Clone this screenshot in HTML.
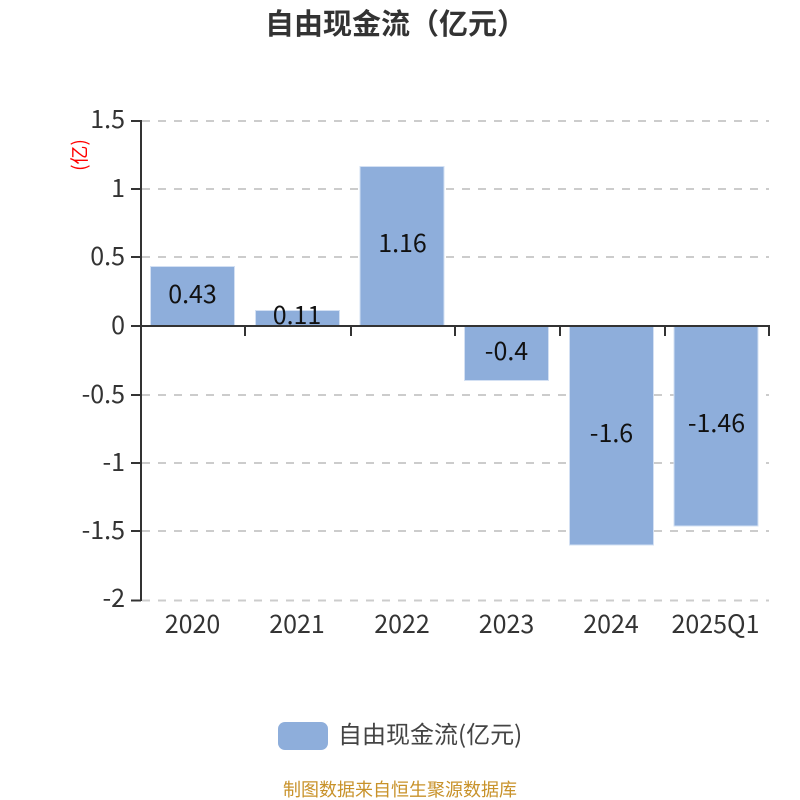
<!DOCTYPE html>
<html><head><meta charset="utf-8"><style>
html,body{margin:0;padding:0;background:#fff}
svg{display:block}
text{font-family:"Noto Sans CJK SC","Liberation Sans",sans-serif}
</style></head><body>
<svg width="800" height="800" viewBox="0 0 800 800" xmlns="http://www.w3.org/2000/svg">
<rect width="800" height="800" fill="#fff"/>
<text x="395.500" y="34" text-anchor="middle" font-size="29" font-weight="700" fill="#333">自由现金流（亿元）</text>
<g stroke="#ccc" stroke-width="2" stroke-dasharray="8 8" fill="none">
<path d="M142 121H769M142 189H769M142 257H769M142 395H769M142 463H769M142 531H769M142 600.500H769"/>
</g>
<g fill="#8eaedb" stroke="#d3e0f3" stroke-width="1">
<rect x="150.500" y="266.500" width="84" height="59"/>
<rect x="255.500" y="310.500" width="84" height="15"/>
<rect x="360" y="166.500" width="84" height="159"/>
<rect x="464.500" y="326" width="84" height="54.500"/>
<rect x="569.500" y="326" width="84" height="219"/>
<rect x="674" y="326" width="84" height="200"/>
</g>
<g stroke="#333" stroke-width="2" fill="none">
<path d="M141 120V601"/>
<path d="M131 121H141M131 189H141M131 257H141M131 326H141M131 395H141M131 463H141M131 531H141M131 600.500H141"/>
<path d="M141 326H770"/>
<path d="M245 326V336M351 326V336M455 326V336M560 326V336M665 326V336M769 326V336"/>
</g>
<g font-size="25" fill="#333" text-anchor="end">
<text x="125" y="128">1.5</text>
<text x="125" y="197">1</text>
<text x="125" y="265">0.5</text>
<text x="125" y="334">0</text>
<text x="125" y="403">-0.5</text>
<text x="125" y="471">-1</text>
<text x="125" y="539">-1.5</text>
<text x="125" y="607">-2</text>
</g>
<text transform="translate(86 155) rotate(-90)" text-anchor="middle" font-size="19" fill="#f00">(亿)</text>
<g font-size="25" fill="#333" text-anchor="middle">
<text x="192.500" y="633">2020</text>
<text x="297" y="633">2021</text>
<text x="402" y="633">2022</text>
<text x="506.500" y="633">2023</text>
<text x="611" y="633">2024</text>
<text x="715.500" y="633">2025Q1</text>
</g>
<g font-size="25" fill="#111" text-anchor="middle">
<text x="192.500" y="303">0.43</text>
<text x="297" y="324">0.11</text>
<text x="402.500" y="252">1.16</text>
<text x="506.500" y="360">-0.4</text>
<text x="611.500" y="442">-1.6</text>
<text x="716.500" y="432">-1.46</text>
</g>
<rect x="278" y="722" width="50" height="28" rx="7" fill="#8eaedb"/>
<text x="338" y="743" font-size="24" fill="#444">自由现金流(亿元)</text>
<text x="400" y="796" text-anchor="middle" font-size="18" fill="#c8922a">制图数据来自恒生聚源数据库</text>
</svg>
</body></html>
